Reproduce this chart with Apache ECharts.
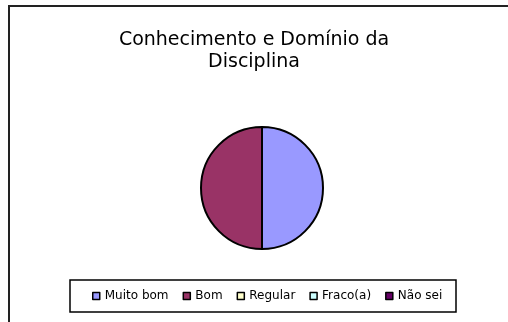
<!DOCTYPE html>
<html>
<head>
<meta charset="utf-8">
<title>Conhecimento e Domínio da Disciplina</title>
<script src="https://cdn.jsdelivr.net/npm/echarts@6/dist/echarts.min.js"></script>
<style>
  html, body { margin: 0; padding: 0; background: #fff; }
  #chart { width: 508px; height: 322px; }
</style>
</head>
<body>
<div id="chart"></div>
<script>
// dados do gráfico
var categorias = ["Muito bom", "Bom", "Regular", "Fraco(a)", "Não sei"];
var valores = [1, 1, 0, 0, 0];
var cores = ["#9999FF", "#993366", "#FFFFCC", "#CCFFFF", "#660066"];

var myChart = echarts.init(document.getElementById("chart"));

var option = {
  backgroundColor: "#fff",
  animation: false,
  color: cores,
  title: {
    text: "Conhecimento e Domínio da\nDisciplina",
    left: "center",
    top: 29,
    padding: 0,
    textStyle: {
      fontFamily: "DejaVu Sans",
      fontSize: 19,
      fontWeight: "normal",
      lineHeight: 22,
      color: "#000",
    },
  },
  graphic: [
    // moldura da área do gráfico (cortada à direita e em baixo)
    {
      type: "rect",
      shape: { x: 9, y: 6, width: 700, height: 500 },
      style: { fill: null, stroke: "#222", lineWidth: 2 },
      silent: true,
    },
    // caixa da legenda
    {
      type: "rect",
      shape: { x: 70, y: 280, width: 386, height: 32 },
      style: { fill: null, stroke: "#000", lineWidth: 1.5 },
      silent: true,
    },
  ],
  legend: {
    data: categorias,
    left: 92,
    top: 290,
    padding: 0,
    icon: "rect",
    itemWidth: 7,
    itemHeight: 7,
    itemGap: 14,
    itemStyle: { borderColor: "#000", borderWidth: 1.5 },
    textStyle: { fontFamily: "DejaVu Sans", fontSize: 12, color: "#000" },
    selectedMode: false,
  },
  series: [
    {
      type: "pie",
      center: [262, 188],
      radius: 61,
      startAngle: 90,
      clockwise: true,
      label: { show: false },
      labelLine: { show: false },
      emphasis: { disabled: true },
      itemStyle: { borderColor: "#000", borderWidth: 2 },
      data: categorias.map(function (nome, i) {
        return { name: nome, value: valores[i] };
      }),
    },
  ],
};

myChart.setOption(option, true);
</script>
</body>
</html>
